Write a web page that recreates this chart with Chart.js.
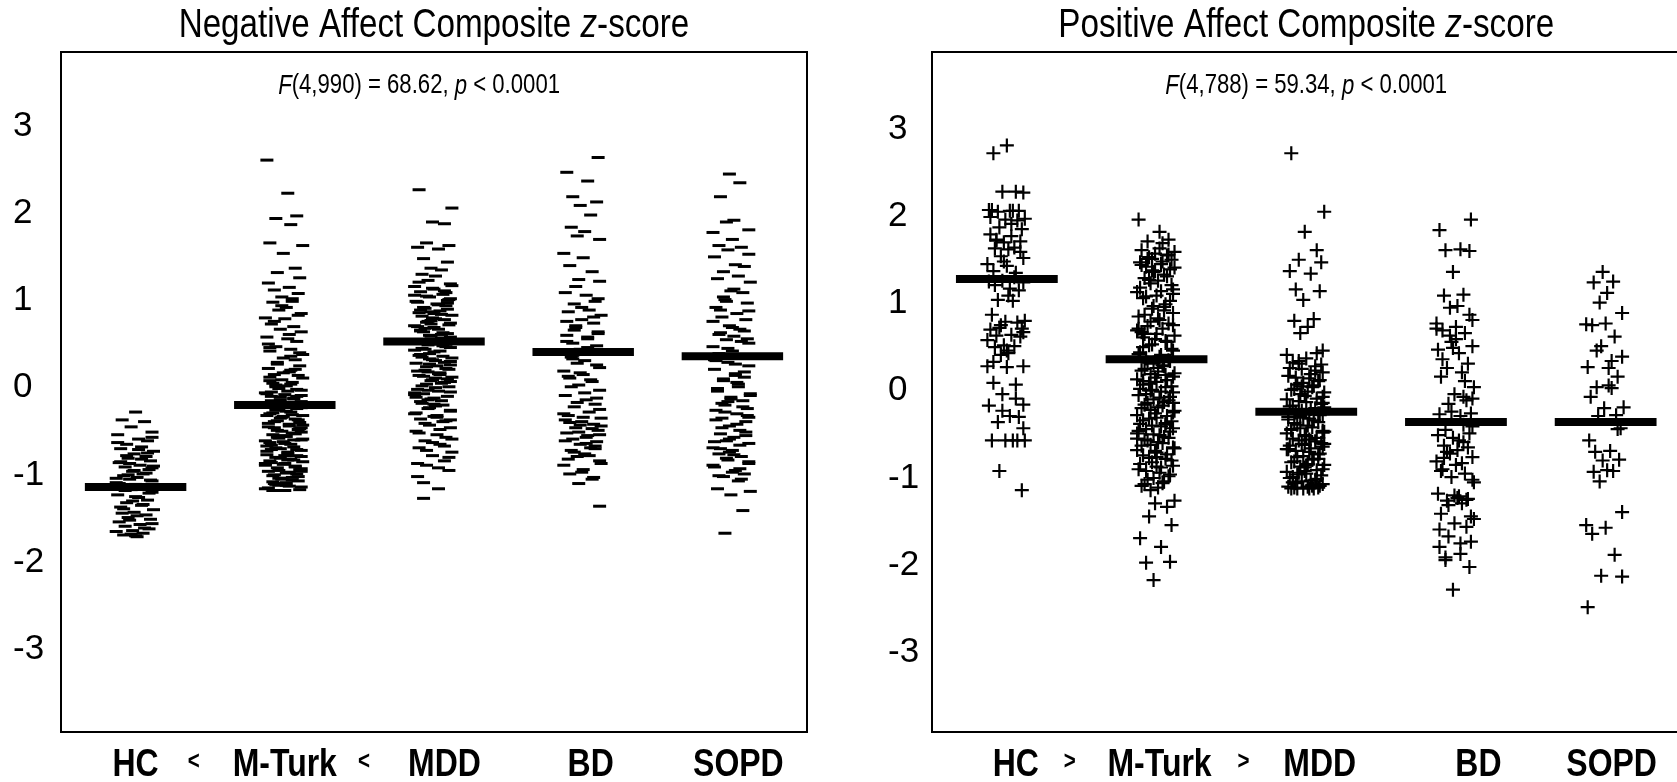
<!DOCTYPE html>
<html lang="en">
<head>
  <meta charset="UTF-8">
  <title>Negative / Positive Affect Composite z-score</title>
  <script src="https://cdn.jsdelivr.net/npm/chart.js"></script>
  <style>
    html, body { margin: 0; padding: 0; background: #fff; width: 1677px; height: 782px; overflow: hidden; }
    .panel { position: absolute; top: 0; height: 782px; }
    #negPanel { left: 0; width: 840px; }
    #posPanel { left: 840px; width: 860px; }
  </style>
</head>
<body>

  <div class="panel" id="negPanel"><canvas id="negChart" width="840" height="782"></canvas></div>
  <div class="panel" id="posPanel"><canvas id="posChart" width="860" height="782"></canvas></div>

  <script>
    // groups and axis labels
    const GROUPS = ['HC', 'M-Turk', 'MDD', 'BD', 'SOPD'];
    const NEG_XLABELS = ['HC', '<', 'M-Turk', '<', 'MDD', 'BD', 'SOPD'];
    const POS_XLABELS = ['HC', '>', 'M-Turk', '>', 'MDD', 'BD', 'SOPD'];
    const Y_TICKS = [-3, -2, -1, 0, 1, 2, 3];

    // Negative affect composite z-scores
    const NEG_HC = [-0.29, -0.38, -0.40, -0.46, -0.52, -0.55, -0.60, -0.62, -0.66, -0.69, -0.71, -0.74, -0.77, -0.80,
      -0.82, -0.85, -0.87, -0.90, -0.92, -0.95, -0.97, -1.00, -1.02, -1.04, -1.06, -1.08, -1.10, -1.12, -1.14, -1.16,
      -1.18, -1.21, -1.24, -1.27, -1.30, -1.33, -1.36, -1.38, -1.41, -1.44, -1.47, -1.50, -1.52, -1.55, -1.58, -1.60,
      -1.63, -1.65, -1.68, -1.70, -1.72, -0.88, -0.93, -1.05, -1.26, -1.45, -1.62, -1.69, -0.58, -0.64, -0.72, -0.76,
      -0.79, -0.83, -0.86, -0.91, -0.96, -0.99, -1.01, -1.07, -1.11, -1.13, -1.19, -1.22, -1.31, -1.35, -1.40, -1.48,
      -1.53, -1.57, -1.66, -1.71];
    const NEG_MTURK = [2.60, 2.22, 1.96, 1.93, 1.86, 1.65, 1.62, 1.53, 1.36, 1.31, 1.25, 1.19, 1.14, 1.11, 1.07, 1.03,
      0.98, 0.97, 0.91, 0.88, 0.84, 0.79, 0.78, 0.72, 0.69, 0.66, 0.63, 0.57, 0.55, 0.52, 0.46, 0.43, 0.41, 0.37, 0.33,
      0.31, 0.26, 0.24, 0.21, 0.17, 0.14, 0.13, 0.08, 0.05, 0.04, 0.01, -0.02, -0.04, -0.07, -0.09, -0.11, -0.13, -0.15,
      -0.17, -0.19, -0.23, -0.25, -0.27, -0.29, -0.31, -0.33, -0.34, -0.37, -0.39, -0.41, -0.42, -0.45, -0.47, -0.49,
      -0.51, -0.53, -0.55, -0.57, -0.59, -0.61, -0.62, -0.65, -0.67, -0.69, -0.71, -0.73, -0.74, -0.77, -0.79, -0.81,
      -0.83, -0.85, -0.86, -0.89, -0.91, -0.93, -0.95, -0.97, -0.98, -1.01, -1.03, -1.05, -1.07, -1.09, -1.10, -1.13,
      -1.15, -1.17, -1.19, -0.06, -0.21, -0.36, -0.52, -0.68, -0.84, -1.00, -1.12, 0.35, 0.11, -0.44, -0.63, -0.92, -0.58,
      -1.18, -1.16, -1.14, -1.11, -1.08, -1.06, -1.04, -1.02, -0.99, -0.96, -0.94, -0.90, -0.88, -0.87, -0.84, -0.82,
      -0.80, -0.78, -0.75, -0.72, -0.70, -0.66, -0.64, -0.60, -0.56, -0.54, -0.50, -0.48, -0.46, -0.43, -0.40, -0.38,
      -0.35, -0.32, -0.30, -0.28, -0.26, -0.24, -0.20, -0.18, -0.16, -0.14, -0.12, -0.10, -0.08, -0.05, -0.03, 0.00,
      0.03, 0.07, 0.10, 0.16, 0.20, 0.28, 0.39, 0.49, 0.60, 0.75, 0.82, 0.93, 1.01, -1.19, -1.13, -1.05, -0.97, -0.88,
      -0.79, -0.72, -0.61, -0.57, -0.47, -0.33, -0.22, -0.11, 0.02, 0.19, 0.45];
    const NEG_MDD = [2.26, 2.05, 1.89, 1.87, 1.65, 1.62, 1.60, 1.58, 1.47, 1.43, 1.36, 1.34, 1.29, 1.27, 1.22, 1.18,
      1.15, 1.12, 1.09, 1.06, 1.03, 1.01, 0.98, 0.95, 0.93, 0.90, 0.87, 0.85, 0.82, 0.79, 0.77, 0.74, 0.71, 0.69, 0.66,
      0.63, 0.61, 0.58, 0.56, 0.53, 0.50, 0.48, 0.45, 0.42, 0.40, 0.37, 0.35, 0.32, 0.29, 0.27, 0.24, 0.21, 0.19, 0.16,
      0.13, 0.11, 0.08, 0.05, 0.03, 0.00, -0.03, -0.05, -0.08, -0.11, -0.14, -0.16, -0.19, -0.22, -0.25, -0.28, -0.31,
      -0.34, -0.37, -0.40, -0.44, -0.47, -0.51, -0.55, -0.58, -0.62, -0.66, -0.70, -0.75, -0.79, -0.85, -0.90, -0.96,
      -1.03, -1.17, -1.28, 0.96, 0.72, 0.60, 0.44, 0.30, 0.17, 0.06, -0.07, -0.20, 0.88, 0.51, 0.38, 0.25, -0.12, -0.33,
      1.08, 0.67, 0.14, 1.20, 1.16, 1.13, 1.10, 1.04, 1.00, 0.97, 0.94, 0.91, 0.89, 0.86, 0.83, 0.81, 0.78, 0.75, 0.73,
      0.70, 0.68, 0.65, 0.62, 0.59, 0.57, 0.54, 0.49, 0.46, 0.43, 0.41, 0.36, 0.33, 0.31, 0.28, 0.23, 0.20, 0.18, 0.15,
      0.12, 0.09, 0.07, 0.04, 0.01, -0.01, -0.04, -0.06, -0.09, -0.13, -0.17, -0.21, -0.24, -0.27, -0.30, -0.35, -0.39,
      -0.42, -0.49, -0.53, -0.60, -0.64, -0.68, -0.73, -0.81, -0.88, -0.93, -1.10, 0.99, 0.76, 0.55, 0.34, 0.10, -0.15,
      -0.38, 1.05, 0.84, 0.64, 0.47, 0.26];
    const NEG_BD = [2.63, 2.46, 2.36, 2.18, 2.12, 2.08, 1.97, 1.83, 1.78, 1.73, 1.69, 1.53, 1.48, 1.39, 1.32, 1.23,
      1.21, 1.08, 1.05, 0.98, 0.95, 0.88, 0.86, 0.82, 0.77, 0.73, 0.68, 0.63, 0.59, 0.55, 0.50, 0.47, 0.43, 0.38, 0.34,
      0.30, 0.27, 0.22, 0.18, 0.14, 0.10, 0.06, 0.02, -0.04, -0.10, -0.15, -0.20, -0.23, -0.29, -0.33, -0.36, -0.40,
      -0.43, -0.47, -0.50, -0.53, -0.56, -0.60, -0.63, -0.66, -0.70, -0.73, -0.77, -0.80, -0.85, -0.90, -0.95, -1.00,
      -1.06, -1.11, -1.37, -0.38, -0.58, -0.68, 0.65, 0.42, 0.12, -0.45, 0.91, 0.80, 0.70, 0.61, 0.52, 0.45, 0.36, 0.25,
      0.16, 0.08, 0.00, -0.07, -0.18, -0.26, -0.31, -0.35, -0.41, -0.48, -0.52, -0.55, -0.62, -0.65, -0.71, -0.75,
      -0.79, -0.83, -0.88, -0.98, -1.04, 1.15, 1.01, 0.75, 0.57, 0.32, -0.13, -0.44];
    const NEG_SOPD = [2.44, 2.34, 2.18, 1.91, 1.89, 1.80, 1.77, 1.69, 1.62, 1.60, 1.57, 1.52, 1.49, 1.40, 1.38, 1.32,
      1.27, 1.24, 1.20, 1.10, 1.08, 1.00, 0.96, 0.91, 0.84, 0.80, 0.77, 0.70, 0.66, 0.62, 0.58, 0.54, 0.50, 0.46, 0.41,
      0.38, 0.33, 0.28, 0.24, 0.20, 0.15, 0.11, 0.07, 0.03, -0.02, -0.08, -0.12, -0.16, -0.21, -0.25, -0.27, -0.31,
      -0.36, -0.40, -0.45, -0.50, -0.54, -0.58, -0.62, -0.65, -0.70, -0.73, -0.77, -0.80, -0.84, -0.88, -0.92, -0.96,
      -1.00, -1.03, -1.08, -1.17, -1.20, -1.24, -1.42, -1.68, 0.55, 0.30, 0.05, -0.19, -0.52, -0.75, -0.94, 0.88, 1.12,
      0.98, 0.87, 0.75, 0.68, 0.60, 0.52, 0.44, 0.36, 0.31, 0.26, 0.17, 0.09, 0.00, -0.05, -0.10, -0.14, -0.23, -0.29,
      -0.33, -0.38, -0.43, -0.47, -0.56, -0.60, -0.67, -0.71, -0.78, -0.82, -0.86, -0.90, -0.98, -1.02, -1.06, -0.17,
      -0.35, -0.63, 0.13, 0.64, 1.03];
    const NEG_MEANS = [-1.15, -0.21, 0.52, 0.40, 0.35];

    // Positive affect composite z-scores
    const POS_HC = [2.80, 2.71, 2.27, 2.27, 2.26, 2.06, 2.05, 2.05, 2.04, 2.05, 2.06, 1.96, 1.95, 1.94, 1.86, 1.84,
      1.78, 1.76, 1.71, 1.70, 1.69, 1.63, 1.62, 1.61, 1.53, 1.51, 1.44, 1.42, 1.36, 1.34, 1.25, 1.23, 1.24, 1.16, 1.14,
      1.03, 1.02, 0.86, 0.79, 0.78, 0.77, 0.71, 0.70, 0.69, 0.63, 0.62, 0.61, 0.51, 0.50, 0.49, 0.42, 0.40, 0.27, 0.27,
      0.26, 0.08, 0.06, -0.05, -0.17, -0.18, -0.30, -0.31, -0.37, -0.58, -0.58, -0.58, -0.58, -0.58, -0.93, -1.15,
      1.98, 1.90, 1.72, 1.58, 1.47, 1.29, 1.20, 1.08, 0.74, 0.66, 0.57, 0.45, 0.32, -0.10, -0.24, -0.44];
    const POS_MTURK = [1.95, 1.81, 1.72, 1.70, 1.68, 1.60, 1.58, 1.56, 1.54, 1.52, 1.49, 1.46, 1.44, 1.41, 1.38, 1.35,
      1.32, 1.28, 1.25, 1.22, 1.15, 1.12, 1.08, 1.05, 0.98, 0.93, 0.88, 0.84, 0.80, 0.76, 0.73, 0.70, 0.66, 0.62, 0.58,
      0.55, 0.51, 0.47, 0.43, 0.40, 0.36, 0.33, 0.30, 0.27, 0.24, 0.21, 0.18, 0.15, 0.12, 0.09, 0.06, 0.03, 0.00, -0.03,
      -0.06, -0.09, -0.12, -0.15, -0.18, -0.21, -0.24, -0.27, -0.30, -0.33, -0.36, -0.39, -0.42, -0.45, -0.48, -0.51,
      -0.54, -0.57, -0.60, -0.63, -0.66, -0.69, -0.72, -0.75, -0.79, -0.83, -0.87, -0.91, -0.95, -0.99, -1.03, -1.07,
      -1.10, -1.27, -1.30, -1.34, -1.45, -1.55, -1.70, -1.80, -1.98, -1.97, -2.18, 0.95, 0.64, 0.25, -0.01, -0.26, -0.50,
      -0.77, 0.10, -0.40, 1.50, 1.10, 0.70, 1.62, 1.55, 1.50, 1.47, 1.43, 1.40, 1.36, 1.30, 1.26, 1.20, 1.17, 1.13,
      1.07, 1.02, 0.96, 0.91, 0.86, 0.82, 0.78, 0.74, 0.68, 0.64, 0.60, 0.56, 0.52, 0.45, 0.41, 0.38, 0.34, 0.31, 0.28,
      0.22, 0.19, 0.14, 0.11, 0.07, 0.04, 0.01, -0.02, -0.05, -0.08, -0.11, -0.14, -0.17, -0.20, -0.23, -0.25, -0.29,
      -0.32, -0.35, -0.38, -0.41, -0.44, -0.47, -0.52, -0.55, -0.58, -0.61, -0.64, -0.67, -0.70, -0.74, -0.78, -0.81,
      -0.85, -0.89, -0.93, -0.97, -1.01, -1.05, -1.08, -1.12, -1.15, -0.15, -0.56, -0.88, 0.49, 0.17, 1.37];
    const POS_MDD = [2.71, 2.04, 1.81, 1.60, 1.49, 1.46, 1.36, 1.33, 1.15, 1.13, 1.03, 0.81, 0.79, 0.72, 0.65, 0.45,
      0.40, 0.36, 0.31, 0.27, 0.24, 0.20, 0.16, 0.13, 0.10, 0.06, 0.03, 0.00, -0.03, -0.07, -0.10, -0.13, -0.16, -0.19,
      -0.22, -0.26, -0.29, -0.32, -0.35, -0.38, -0.41, -0.44, -0.47, -0.50, -0.53, -0.56, -0.59, -0.62, -0.65, -0.68,
      -0.71, -0.74, -0.77, -0.80, -0.83, -0.86, -0.89, -0.92, -0.95, -0.98, -1.01, -1.04, -1.07, -1.10, -1.13, -1.13,
      -1.12, -1.11, -0.30, -0.49, -0.68, -0.87, -1.06, 0.22, 0.04, -0.15, -0.34, -0.57, -0.79, -0.97, -1.09, -0.45,
      -0.62, -0.93, 0.42, 0.33, 0.29, 0.25, 0.18, 0.14, 0.11, 0.08, 0.05, 0.01, -0.02, -0.05, -0.08, -0.11, -0.14,
      -0.18, -0.21, -0.24, -0.28, -0.31, -0.33, -0.37, -0.40, -0.43, -0.46, -0.48, -0.52, -0.55, -0.58, -0.61, -0.64,
      -0.67, -0.70, -0.73, -0.76, -0.79, -0.82, -0.85, -0.88, -0.91, -0.94, -0.96, -1.00, -1.03, -1.05, -1.08, -1.11,
      -1.13, -1.12, -1.13, -1.10, -1.13, -0.20, -0.63, -1.02, 0.30];
    const POS_BD = [1.95, 1.83, 1.61, 1.60, 1.59, 1.35, 1.09, 1.08, 0.96, 0.94, 0.80, 0.76, 0.72, 0.68, 0.65, 0.55,
      0.50, 0.46, 0.42, 0.30, 0.25, 0.20, 0.15, 0.03, -0.05, -0.12, -0.16, -0.27, -0.28, -0.30, -0.46, -0.50, -0.55,
      -0.60, -0.64, -0.69, -0.73, -0.77, -0.82, -0.86, -0.91, -0.96, -1.00, -1.03, -1.19, -1.22, -1.25, -1.27, -1.30,
      -1.42, -1.48, -1.53, -1.57, -1.68, -1.74, -1.80, -1.88, -1.95, -2.03, -2.29, -0.40, -0.78, -1.24, 0.62, -0.10,
      0.70, 0.58, 0.35, 0.10, -0.25, -0.42, -0.52, -0.58, -0.66, -0.71, -0.84, -0.93, -1.06, -1.21, -1.26, -1.32,
      -1.45, -1.60, -1.76, -1.92, 0.86, 0.48, -0.08];
    const POS_SOPD = [1.35, 1.24, 1.23, 1.11, 1.00, 0.88, 0.75, 0.76, 0.74, 0.61, 0.50, 0.38, 0.26, 0.25, 0.15, 0.03,
      0.02, -0.08, -0.20, -0.21, -0.29, -0.30, -0.44, -0.58, -0.70, -0.71, -0.80, -0.81, -0.93, -0.94, -0.92, -1.05,
      -1.40, -1.55, -1.58, -1.65, -1.89, -2.13, -2.14, -2.49, 0.05, -0.45, 0.45, 0.33];
    const POS_MEANS = [1.27, 0.35, -0.25, -0.37, -0.37];

    // layout (positions in axis units, not data)
    const JITTER = [0.00, -0.09, 0.06, -0.03, 0.11, -0.12, 0.02, 0.08, -0.06, 0.04, -0.10, 0.12, -0.01, 0.07,
      -0.05, 0.10, -0.11, 0.03, -0.07, 0.09, -0.02, 0.05, -0.08, 0.01, -0.04, 0.11, -0.13];
    const MEAN_HALF = 0.34;
    const NEG_LABEL_POS = [1.0, 1.39, 2.0, 2.53, 3.07, 4.05, 5.04];
    const POS_LABEL_POS = [1.06, 1.42, 2.02, 2.58, 3.09, 4.15, 5.04];

    const FONT = '"Liberation Sans", Arial, sans-serif';
    const SQUEEZE = 0.82;   // the figure's text is set in a condensed face

    function buildDatasets(groups, means, style, radius, lw) {
      const sets = [];
      groups.forEach((vals, g) => {
        sets.push({
          label: GROUPS[g],
          data: vals.map((v, k) => ({ x: g + 1 + JITTER[(k + g * 5) % JITTER.length], y: v })),
          pointStyle: style,
          pointRadius: radius,
          pointHoverRadius: radius,
          borderColor: '#000',
          backgroundColor: '#000',
          pointBorderWidth: lw,
          order: 2
        });
      });
      means.forEach((m, g) => {
        sets.push({
          label: GROUPS[g] + ' mean',
          type: 'line',
          showLine: true,
          data: [{ x: g + 1 - MEAN_HALF, y: m }, { x: g + 1 + MEAN_HALF, y: m }],
          borderColor: '#000',
          borderWidth: 8,
          borderCapStyle: 'butt',
          pointRadius: 0,
          order: 1
        });
      });
      return sets;
    }

    // draws a line of text made of plain / italic runs, centred at cx, squeezed horizontally
    function drawRuns(ctx, runs, cx, cy, size, weight) {
      const fontOf = it => (it ? 'italic ' : '') + (weight || 'normal') + ' ' + size + 'px ' + FONT;
      let total = 0;
      runs.forEach(r => { ctx.font = fontOf(r[1]); total += ctx.measureText(r[0]).width; });
      ctx.save();
      ctx.translate(cx - total * SQUEEZE / 2, cy);
      ctx.scale(SQUEEZE, 1);
      ctx.textAlign = 'left';
      ctx.textBaseline = 'middle';
      ctx.fillStyle = '#000';
      let x = 0;
      runs.forEach(r => {
        ctx.font = fontOf(r[1]);
        ctx.fillText(r[0], x, 0);
        x += ctx.measureText(r[0]).width;
      });
      ctx.restore();
    }

    const panelText = {
      id: 'panelText',
      afterDraw(chart, args, opts) {
        const { ctx, chartArea: a, scales } = chart;
        ctx.save();
        ctx.strokeStyle = '#000';
        ctx.lineWidth = 2;
        ctx.strokeRect(a.left, a.top, a.right - a.left, a.bottom - a.top);
        drawRuns(ctx, opts.title, (a.left + a.right) / 2, 26, 40.5);
        drawRuns(ctx, opts.stat, scales.x.getPixelForValue(opts.statX), 86, 27);
        // category labels of the x axis, in the condensed bold face
        const xs = scales.x;
        xs.ticks.forEach(t => {
          const small = t.label === '<' || t.label === '>';
          drawRuns(ctx, [[t.label, false]], xs.getPixelForValue(t.value), small ? 762 : 765, small ? 25 : 39, 'bold');
        });
        ctx.restore();
      }
    };

    function makeChart(id, cfg) {
      return new Chart(document.getElementById(id), {
        type: 'scatter',
        data: { datasets: cfg.datasets },
        options: {
          responsive: false,
          animation: false,
          events: [],
          layout: { padding: { left: cfg.padLeft, right: cfg.padRight, top: 52, bottom: 0 } },
          plugins: {
            legend: { display: false },
            tooltip: { enabled: false },
            panelText: { title: cfg.title, stat: cfg.stat, statX: cfg.statX }
          },
          scales: {
            x: {
              type: 'linear',
              min: 0.5,
              max: 5.5,
              grid: { display: false, drawTicks: false },
              border: { display: false },
              afterBuildTicks: ax => { ax.ticks = cfg.labelPos.map(v => ({ value: v })); },
              afterFit: ax => { ax.height = 50; },
              ticks: {
                display: false,
                autoSkip: false,
                maxRotation: 0,
                callback: (v, i) => cfg.labels[i]
              }
            },
            y: {
              min: cfg.yMin,
              max: cfg.yMax,
              grid: { display: false, drawTicks: false },
              border: { display: false },
              afterBuildTicks: ax => { ax.ticks = Y_TICKS.map(v => ({ value: v })); },
              afterFit: ax => { ax.width = cfg.axisWidth; },
              ticks: {
                crossAlign: 'far',
                padding: 0,
                labelOffset: 1,
                color: '#000',
                font: { family: FONT, size: 35 }
              }
            }
          }
        },
        plugins: [panelText]
      });
    }

    makeChart('negChart', {
      datasets: buildDatasets([NEG_HC, NEG_MTURK, NEG_MDD, NEG_BD, NEG_SOPD], NEG_MEANS, 'line', 6.5, 3),
      labels: NEG_XLABELS,
      labelPos: NEG_LABEL_POS,
      title: [['Negative Affect Composite ', false], ['z', true], ['-score', false]],
      stat: [['F', true], ['(4,990) = 68.62, ', false], ['p', true], [' < 0.0001', false]],
      statX: 2.9,
      padLeft: 13, axisWidth: 48, padRight: 33,
      yMin: -3.96, yMax: 3.84
    });

    makeChart('posChart', {
      datasets: buildDatasets([POS_HC, POS_MTURK, POS_MDD, POS_BD, POS_SOPD], POS_MEANS, 'cross', 7, 2.2),
      labels: POS_XLABELS,
      labelPos: POS_LABEL_POS,
      title: [['Positive Affect Composite ', false], ['z', true], ['-score', false]],
      stat: [['F', true], ['(4,788) = 59.34, ', false], ['p', true], [' < 0.0001', false]],
      statX: 3.0,
      padLeft: 48, axisWidth: 44, padRight: 19.5,
      yMin: -3.92, yMax: 3.87
    });
  </script>
</body>
</html>
